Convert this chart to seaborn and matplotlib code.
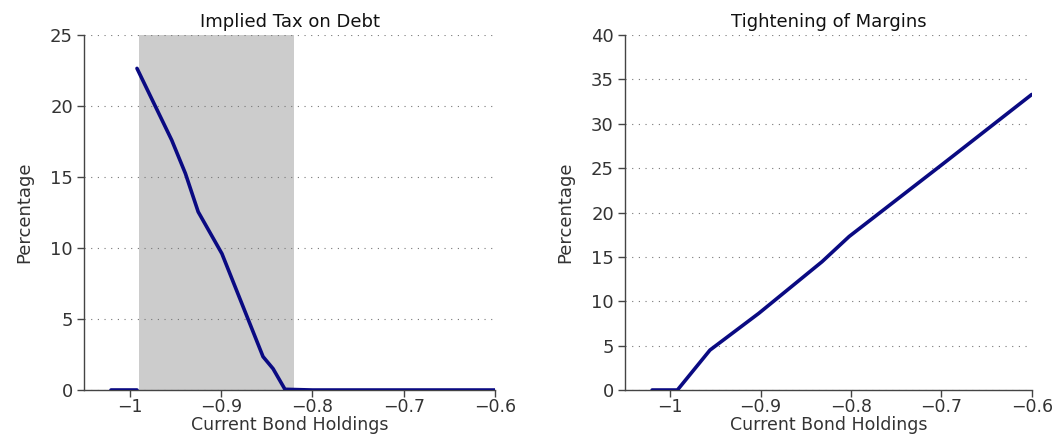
import numpy as np
import pandas as pd
import matplotlib
matplotlib.use("Agg")
import matplotlib.pyplot as plt
import seaborn as sns

#---------------------------------
# data
#---------------------------------
# implied tax: flat piece at 0, then a separate piece starting at the top
tax_x = [-1.02, -0.992, -0.992, -0.954, -0.939, -0.925, -0.899, -0.854, -0.843, -0.830, -0.80, -0.70, -0.60]
tax_y = [0.0, 0.0, 22.65, 17.6, 15.25, 12.55, 9.6, 2.35, 1.5, 0.05, 0.0, 0.0, 0.0]
tax_seg = [0, 0, 1, 1, 1, 1, 1, 1, 1, 1, 1, 1, 1]

margin_x = [-1.02, -0.992, -0.956, -0.902, -0.832, -0.802, -0.698, -0.60]
margin_y = [0.0, 0.0, 4.5, 8.64, 14.46, 17.3, 25.5, 33.3]

shade_lo, shade_hi = -0.99, -0.82
xticks = [-1.0, -0.9, -0.8, -0.7, -0.6]
xtick_labels = ["\u22121", "\u22120.9", "\u22120.8", "\u22120.7", "\u22120.6"]

sns.set_style("white")
plt.rcParams["font.family"] = ["DejaVu Sans"]

navy = "#0a0a82"
txt = "#333333"

fig = plt.figure(figsize=(10.57, 4.41), dpi=100)
ax1 = fig.add_axes([0.0795, 0.1156, 0.3888, 0.805])
ax2 = fig.add_axes([0.5913, 0.1156, 0.3848, 0.805])

df1 = pd.DataFrame({"x": tax_x, "y": tax_y, "seg": tax_seg})
df2 = pd.DataFrame({"x": margin_x, "y": margin_y})

ax1.axvspan(shade_lo, shade_hi, color="#cccccc", zorder=0, lw=0)
sns.lineplot(data=df1, x="x", y="y", units="seg", estimator=None, ax=ax1,
             color=navy, lw=2.6, sort=False, zorder=3)
sns.lineplot(data=df2, x="x", y="y", estimator=None, ax=ax2,
             color=navy, lw=2.6, sort=False, zorder=3)

for ax, title, ymax in [(ax1, "Implied Tax on Debt", 25), (ax2, "Tightening of Margins", 40)]:
    ax.set_xlim(-1.05, -0.6)
    ax.set_ylim(0, ymax)
    ax.set_yticks(np.arange(0, ymax + 1, 5))
    ax.set_xticks(xticks)
    ax.set_xticklabels(xtick_labels)
    ax.grid(axis="y", linestyle=(0, (1, 5)), color="#777777", lw=0.8)
    ax.grid(axis="x", visible=False)
    ax.set_axisbelow(True)
    sns.despine(ax=ax)
    for s in ["left", "bottom"]:
        ax.spines[s].set_color("#444444")
        ax.spines[s].set_linewidth(1.0)
    ax.tick_params(direction="out", length=5, width=1, color="#444444",
                   labelsize=13, labelcolor=txt, left=True, bottom=True, pad=3)
    ax.tick_params(axis="x", pad=1, labelsize=12.5)
    ax.set_title(title, fontsize=13, color="#111111", pad=6)
    ax.set_xlabel("Current Bond Holdings", fontsize=12.5, color=txt, labelpad=0)
    ax.set_ylabel("Percentage", fontsize=13, color=txt, labelpad=12)

fig.savefig("out.png", dpi=100)
